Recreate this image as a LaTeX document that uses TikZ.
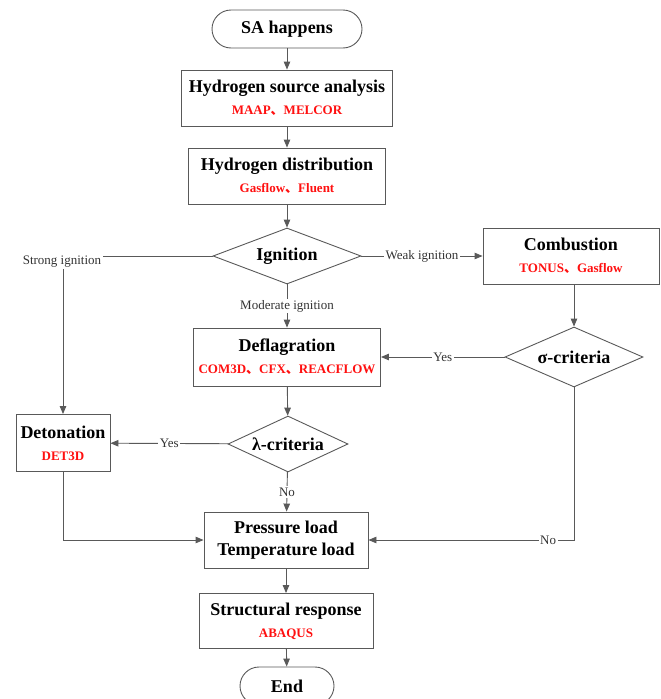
\documentclass[tikz,border=0pt]{standalone}
\usepackage{fontspec}
\setmainfont{Liberation Serif}
\newfontfamily\cjk{Noto Sans CJK SC}
\usetikzlibrary{shapes.geometric,arrows.meta}
\definecolor{linegray}{HTML}{595959}
\definecolor{toolred}{HTML}{FF1010}
\newcommand{\dun}{{\cjk 、}}
\newcommand{\tool}[1]{\\{\fontsize{13}{13}\selectfont\color{toolred}#1}}
\tikzset{
	box/.style={draw=linegray,line width=0.9pt,inner sep=0pt,align=center,
		font=\fontsize{18}{22}\selectfont\bfseries},
	term/.style={box,rounded corners=19pt,minimum height=38pt},
	decide/.style={box,shape=diamond},
	lbl/.style={fill=white,inner sep=1.5pt,text=black!80,font=\fontsize{13}{13}\selectfont},
	arr/.style={draw=linegray,line width=0.9pt,-{Triangle[length=8pt,width=6.5pt]}},
	line/.style={draw=linegray,line width=0.9pt}
}
\begin{document}
\begin{tikzpicture}[x=1pt,y=-1pt]
	\useasboundingbox (0,0) rectangle (661,699);
	\clip (0,0) rectangle (661,699);
	% main column
	\node[term,minimum width=150pt,name=start] at (287,29) {SA happens};
	\node[box,minimum width=211pt,minimum height=56pt,name=src] at (287,98) {Hydrogen source analysis\tool{MAAP\dun MELCOR}};
	\node[box,minimum width=197pt,minimum height=56pt,name=dist] at (287,176) {Hydrogen distribution\tool{Gasflow\dun Fluent}};
	\node[decide,shape aspect=2.64,minimum width=148pt,minimum height=56pt,name=ign] at (287,256) {Ignition};
	\node[box,minimum width=187pt,minimum height=58pt,name=defl] at (287,357) {Deflagration\tool{COM3D\dun CFX\dun REACFLOW}};
	\node[decide,shape aspect=2.4,minimum width=120pt,minimum height=56pt,name=lam] at (288,444) {λ-criteria};
	\node[box,minimum width=164pt,minimum height=56pt,name=press] at (286,540) {Pressure load\\Temperature load};
	\node[box,minimum width=174pt,minimum height=55pt,name=resp] at (286,621) {Structural response\tool{ABAQUS}};
	\node[term,minimum width=94pt,name=stop] at (287,686) {End};
	% side branches
	\node[box,minimum width=176pt,minimum height=56pt,name=comb] at (571,256) {Combustion\tool{TONUS\dun Gasflow}};
	\node[decide,shape aspect=2.3,minimum width=138pt,minimum height=60pt,name=sig] at (574,357) {σ-criteria};
	\node[box,minimum width=94pt,minimum height=57pt,name=det] at (63,443) {Detonation\tool{DET3D}};

	\foreach \a/\b in {start/src,src/dist,dist/ign,defl/lam,press/resp,resp/stop}{
		\draw[arr] (\a)--(\b);
	};
	\draw[arr] (ign)--node[lbl]{Weak ignition}(comb);
	\draw[arr] (ign)--node[lbl]{Moderate ignition}(defl);
	\draw[arr] (ign.west)-|(det.north);
	\node[lbl,name=strong] at (62,262) {Strong ignition};
	\draw[arr] (comb.south-|sig.north)--(sig.north);
	\draw[arr] (sig)--node[lbl]{Yes}(defl);
	\draw[arr] (lam)--node[lbl]{Yes}(det);
	\draw[arr] (lam)--node[lbl]{No}(press);
	\draw[arr] (sig.south)|-node[lbl,pos=0.563]{No}(press.east);
	\draw[arr] (det.south)|-(press.west);
\end{tikzpicture}
\end{document}
